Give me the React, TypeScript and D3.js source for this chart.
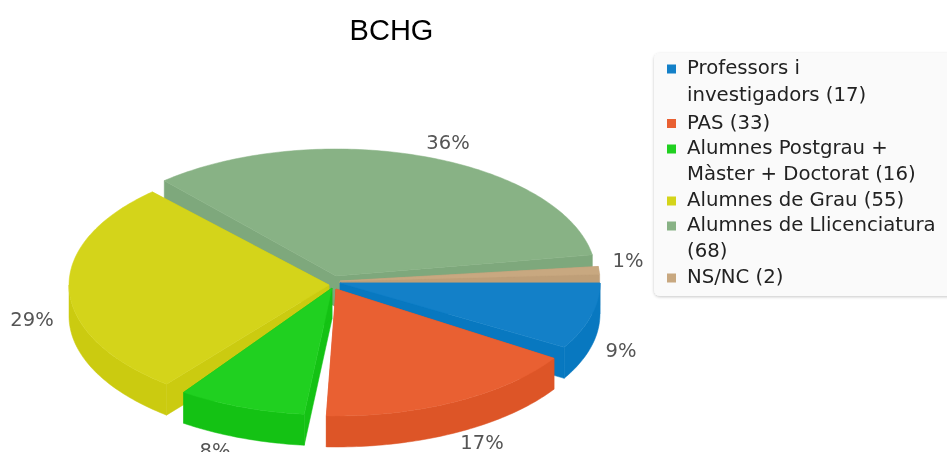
import React from "react";
import * as d3 from "d3";

const title = "BCHG";
const categories = ["Professors i investigadors", "PAS", "Alumnes Postgrau + Màster + Doctorat", "Alumnes de Grau", "Alumnes de Llicenciatura", "NS/NC"];
const values = [17, 33, 16, 55, 68, 2];
const percentLabels = ["9%", "17%", "8%", "29%", "36%", "1%"];
const legendLines = [
  ["Professors i", "investigadors (17)"],
  ["PAS (33)"],
  ["Alumnes Postgrau +", "Màster + Doctorat (16)"],
  ["Alumnes de Grau (55)"],
  ["Alumnes de Llicenciatura", "(68)"],
  ["NS/NC (2)"],
];
const topColors = ["#1380c8", "#e96032", "#20d020", "#d4d41a", "#88b285", "#c8a880"];
const wallColors = ["#0878c0", "#dd5527", "#14c214", "#cbcb10", "#7ea87c", "#bf9f78"];
const swatchColors = ["#1380c8", "#e96032", "#20d020", "#d4d41a", "#88b285", "#c8a880"];

// layout
const W = 947, H = 452;
const RX = 260, RY = 127, DEPTH = 31;
const PAD = (3 * Math.PI) / 180;
const apex: [number, number][] = [[340, 283], [336, 289], [332, 288], [329, 285], [336, 276], [340, 281]];
const angleNudgeDeg = [0, -0.4, 0.6, 1.5, 0, 0];
const labelPos: [number, number][] = [[621, 357], [482, 449], [215, 457], [32, 326], [448, 149], [628, 267]];
const drawOrder = [4, 5, 3, 0, 2, 1];
const legendBaselines = [[74, 100.5], [128.5], [154, 180], [206], [231, 257], [283]];

const pie = d3.pie<number>().sort(null).padAngle(PAD).startAngle(0).endAngle(2 * Math.PI);
const arcs = pie(values);
const line = d3.line();

function arcPts(i: number, a0: number, a1: number, dy = 0): [number, number][] {
  const n = Math.max(2, Math.ceil(Math.abs(a1 - a0) * 60));
  const [cx, cy] = apex[i];
  return d3.range(n + 1).map((k) => {
    const t = a0 + ((a1 - a0) * k) / n;
    return [cx + RX * Math.cos(t), cy + RY * Math.sin(t) + dy] as [number, number];
  });
}

function Slice({ i }: { i: number }) {
  const nudge = (angleNudgeDeg[i] * Math.PI) / 180;
  const a0 = arcs[i].startAngle + nudge;
  const a1 = arcs[i].endAngle - arcs[i].padAngle + nudge;
  const [cx, cy] = apex[i];
  const c: [number, number] = [cx, cy];
  const cd: [number, number] = [cx, cy + DEPTH];
  const top = arcPts(i, a0, a1);
  const first = top[0];
  const last = top[top.length - 1];
  const wallPaths = [
    [c, first, [first[0], first[1] + DEPTH], cd],
    [c, last, [last[0], last[1] + DEPTH], cd],
  ] as [number, number][][];
  const w0 = Math.max(a0, 0);
  const w1 = Math.min(a1, Math.PI);
  if (w1 > w0) {
    wallPaths.push([...arcPts(i, w0, w1), ...arcPts(i, w0, w1, DEPTH).reverse()]);
  }
  return (
    <g>
      {wallPaths.map((p, k) => (
        <path key={k} d={line(p) + "Z"} fill={wallColors[i]} stroke={wallColors[i]} strokeWidth={0.5} />
      ))}
      <path d={line([c, ...top]) + "Z"} fill={topColors[i]} stroke={topColors[i]} strokeWidth={0.5} />
    </g>
  );
}

export default function App() {
  return (
    <svg
      width={W}
      height={H}
      viewBox={`0 0 ${W} ${H}`}
      style={{ position: "fixed", left: 0, top: 0, background: "#fff", filter: "blur(0.45px)" }}
      aria-label={categories.join(", ")}
    >
      <defs>
        <filter id="legendShadow" x="-5%" y="-5%" width="110%" height="110%">
          <feDropShadow dx="0" dy="1" stdDeviation="1.5" floodColor="#000" floodOpacity="0.22" />
        </filter>
      </defs>
      <text x={391.5} y={39.5} textAnchor="middle" fontFamily="'Liberation Sans', Arial, sans-serif" fontSize={29} fill="#000">
        {title}
      </text>
      {drawOrder.map((i) => (
        <Slice key={i} i={i} />
      ))}
      {percentLabels.map((t, i) => (
        <text key={t} x={labelPos[i][0]} y={labelPos[i][1]} textAnchor="middle" fontFamily="'DejaVu Sans', sans-serif" fontSize={19.5} fill="#555">
          {t}
        </text>
      ))}
      <rect x={654} y={53} width={310} height={243} rx={6} fill="#fafafa" filter="url(#legendShadow)" />
      {legendLines.map((lines, i) => (
        <g key={i}>
          <rect x={667} y={legendBaselines[i][0] - 9.5} width={9} height={9} fill={swatchColors[i]} />
          {lines.map((l, k) => (
            <text key={k} x={687} y={legendBaselines[i][k]} fontFamily="'DejaVu Sans', sans-serif" fontSize={19.7} fill="#222">
              {l}
            </text>
          ))}
        </g>
      ))}
    </svg>
  );
}
